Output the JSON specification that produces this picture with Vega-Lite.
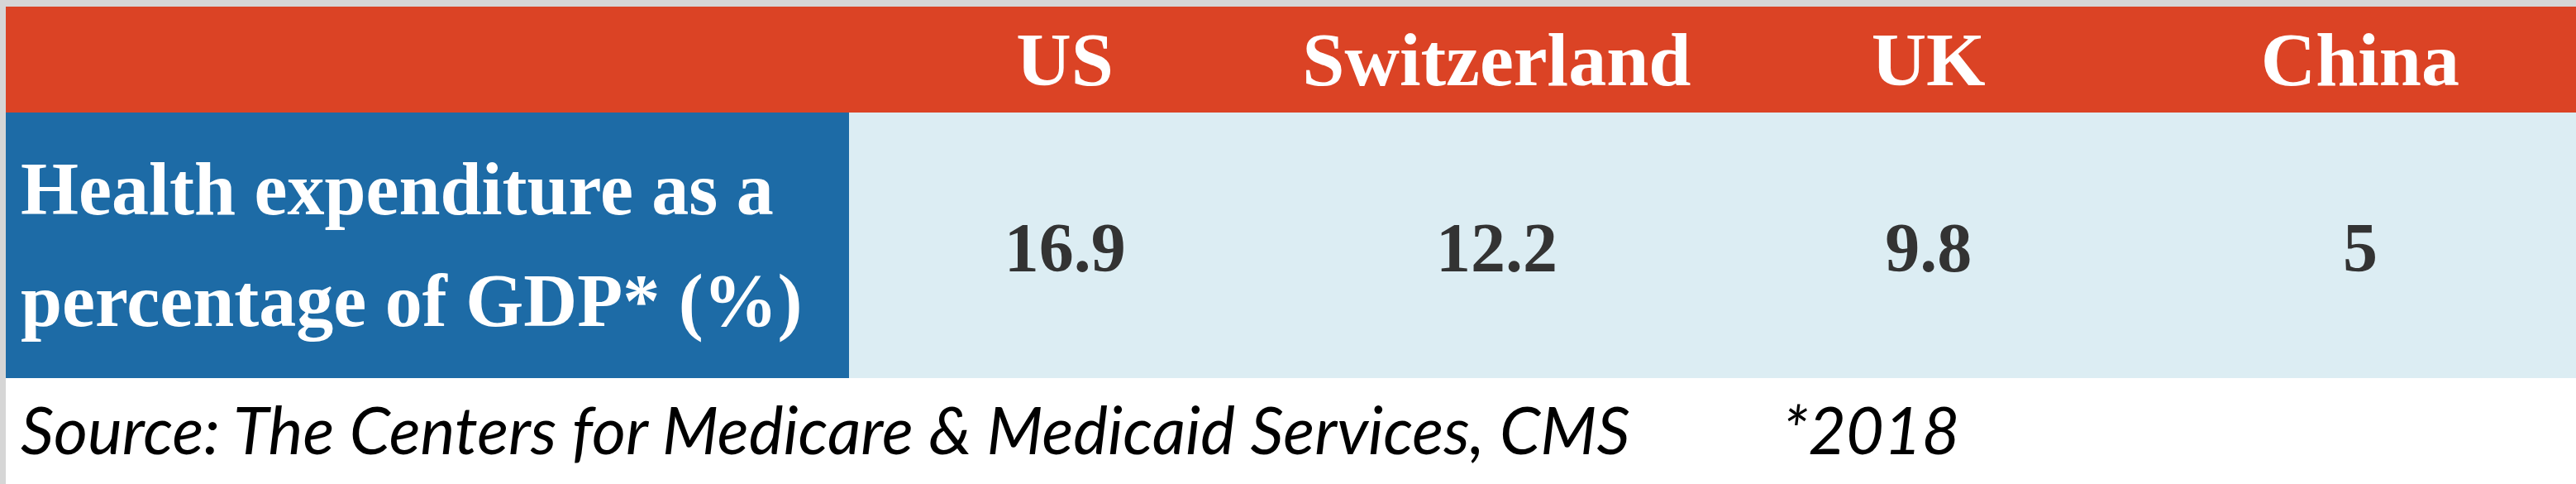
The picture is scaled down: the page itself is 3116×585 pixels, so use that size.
{
  "$schema": "https://vega.github.io/schema/vega-lite/v6.json",
  "description": "Health expenditure as a percentage of GDP, 2018",
  "background": "#D6D6D6",
  "padding": {"left": 7, "top": 8, "right": 0, "bottom": 0},
  "autosize": {"type": "pad"},
  "config": {"view": {"stroke": null}},
  "datasets": {
    "cells": [
      {"row": "header", "col": "label", "text": ""},
      {"row": "header", "col": "US", "text": "US"},
      {"row": "header", "col": "Switzerland", "text": "Switzerland"},
      {"row": "header", "col": "UK", "text": "UK"},
      {"row": "header", "col": "China", "text": "China"},
      {"row": "body", "col": "label", "text": "Health expenditure as a\npercentage of GDP* (%)"},
      {"row": "body", "col": "US", "value": 16.9},
      {"row": "body", "col": "Switzerland", "value": 12.2},
      {"row": "body", "col": "UK", "value": 9.8},
      {"row": "body", "col": "China", "value": 5}
    ],
    "notes": [
      {"slot": "source", "note": "Source: The Centers for Medicare & Medicaid Services, CMS"},
      {"slot": "year", "note": "*2018"}
    ]
  },
  "spacing": 0,
  "vconcat": [
    {
      "spacing": 0,
      "bounds": "flush",
      "hconcat": [
        {
          "width": 1020,
          "height": 128,
          "view": {"fill": "#DB4325"},
          "data": {"name": "cells"},
          "transform": [{"filter": "datum.row == 'header' && datum.col == 'label'"}],
          "mark": {"type": "text", "color": "white"},
          "encoding": {"text": {"field": "text"}}
        },
        {
          "width": 2089,
          "height": 128,
          "view": {"fill": "#DB4325"},
          "data": {"name": "cells"},
          "transform": [{"filter": "datum.row == 'header' && datum.col != 'label'"}],
          "mark": {
            "type": "text",
            "font": "Liberation Serif",
            "fontWeight": "bold",
            "fontSize": 92,
            "color": "white",
            "baseline": "middle",
            "dy": 3
          },
          "encoding": {
            "x": {
              "field": "col",
              "type": "nominal",
              "scale": {"type": "band", "domain": ["US", "Switzerland", "UK", "China"], "paddingInner": 0, "paddingOuter": 0},
              "axis": null
            },
            "text": {"field": "text"}
          }
        }
      ]
    },
    {
      "spacing": 0,
      "bounds": "flush",
      "hconcat": [
        {
          "width": 1020,
          "height": 321,
          "view": {"fill": "#1D6BA6"},
          "data": {"name": "cells"},
          "transform": [{"filter": "datum.row == 'body' && datum.col == 'label'"}],
          "mark": {
            "type": "text",
            "font": "Liberation Serif",
            "fontWeight": "bold",
            "fontSize": 90,
            "color": "white",
            "align": "left",
            "baseline": "middle",
            "lineBreak": "\n",
            "lineHeight": 135,
            "dx": 18,
            "dy": -65
          },
          "encoding": {
            "x": {"field": "col", "type": "nominal", "scale": {"type": "point", "padding": 0, "align": 0}, "axis": null},
            "text": {"field": "text"}
          }
        },
        {
          "width": 2089,
          "height": 321,
          "view": {"fill": "#DCEDF3"},
          "data": {"name": "cells"},
          "transform": [{"filter": "datum.row == 'body' && datum.col != 'label'"}],
          "mark": {
            "type": "text",
            "font": "Liberation Serif",
            "fontWeight": "bold",
            "fontSize": 84,
            "color": "#333333",
            "baseline": "middle",
            "dy": 6
          },
          "encoding": {
            "x": {
              "field": "col",
              "type": "nominal",
              "scale": {"type": "band", "domain": ["US", "Switzerland", "UK", "China"], "paddingInner": 0, "paddingOuter": 0},
              "axis": null
            },
            "text": {"field": "value", "type": "quantitative"}
          }
        }
      ]
    },
    {
      "width": 3109,
      "height": 128,
      "view": {"fill": "white"},
      "data": {"name": "notes"},
      "encoding": {
        "x": {
          "field": "slot",
          "type": "nominal",
          "scale": {"type": "point", "domain": ["source", "year"], "padding": 0},
          "axis": null
        },
        "text": {"field": "note"}
      },
      "layer": [
        {
          "transform": [{"filter": "datum.slot == 'source'"}],
          "mark": {"type": "text", "font": "Lato", "fontStyle": "italic", "fontSize": 79, "color": "black", "align": "left", "baseline": "middle", "dx": 18, "dy": 4}
        },
        {
          "transform": [{"filter": "datum.slot == 'year'"}],
          "mark": {"type": "text", "font": "Lato", "fontStyle": "italic", "fontSize": 79, "color": "black", "align": "left", "baseline": "middle", "dx": -960, "dy": 4}
        }
      ]
    }
  ]
}
